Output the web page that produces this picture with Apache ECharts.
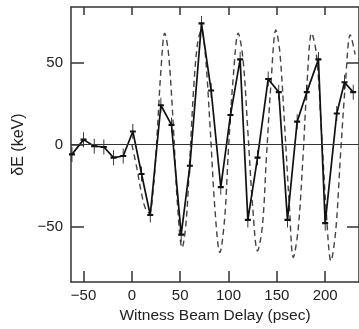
<!DOCTYPE html>
<html>
<head>
<meta charset="utf-8">
<script src="https://cdn.jsdelivr.net/npm/echarts@6/dist/echarts.min.js"></script>
<style>
html,body{margin:0;padding:0;background:#fff;}
#c{width:359px;height:329px;}
</style>
</head>
<body>
<div id="c"></div>
<script>
// Measured points (solid line with error bars)
const measX = [-62, -50, -39, -29, -19, -9, 1, 10, 19, 30, 41, 51, 60, 72, 82, 92, 102, 112, 120, 130, 141, 152, 161, 171, 181, 193, 200, 212, 220, 229];
const measY = [-6, 3, -1, -1.5, -8, -7, 8, -18, -43, 24, 12, -55, -13, 74, 33, -26, 18, 52, -46, -8, 40, 32, -46, 14, 32, 52, -48, 19, 38, 32];

// Theory curve (dashed)
const theoX = [0, 5, 10, 14, 18, 22, 26, 30, 34, 38, 43, 47, 52, 56, 60, 64, 68, 72, 76, 81, 86, 91, 96, 100, 105, 110, 115, 120, 125, 130, 135, 139, 144, 149, 153, 158, 163, 167, 172, 177, 181, 186, 191, 196, 201, 206, 211, 216, 221, 226, 231];
const theoY = [0, -14, -30, -39, -42, -28, 5, 45, 68, 55, 10, -35, -63, -48, -8, 35, 62, 70, 55, 10, -40, -66, -45, -2, 42, 68, 52, 8, -38, -65, -50, -10, 38, 70, 57, 12, -38, -69, -52, -8, 35, 68, 55, 10, -40, -71, -52, -5, 38, 67, 55];

const xTicks = [-50, 0, 50, 100, 150, 200];
const yTicks = [-50, 0, 50];
const yRightTicks = [-50, 50];

const font = 'Liberation Sans, Arial, sans-serif';
const ink = '#222';
const fmt = v => (v < 0 ? '\u2212' + Math.abs(v) : String(v));

const chart = echarts.init(document.getElementById('c'), null, {renderer: 'canvas'});
const axisLine = {show: true, onZero: false, lineStyle: {color: '#333', width: 1.5}};
chart.setOption({
  animation: false,
  backgroundColor: '#fff',
  grid: {left: 71, right: -5, top: 7, bottom: 42, containLabel: false},
  xAxis: [
    {
      type: 'value', position: 'bottom', min: -63, max: 235,
      axisLine: axisLine,
      axisTick: {show: true, inside: true, length: 11, customValues: xTicks, lineStyle: {color: '#333', width: 1.5}},
      axisLabel: {customValues: xTicks, formatter: fmt, margin: 6, fontSize: 15, color: ink, fontFamily: font},
      splitLine: {show: false},
      name: 'Witness Beam Delay (psec)', nameLocation: 'middle', nameGap: 24,
      nameTextStyle: {fontSize: 15.5, color: ink, fontFamily: font}
    },
    {
      type: 'value', position: 'top', min: -63, max: 235,
      axisLine: axisLine,
      axisTick: {show: true, inside: true, length: 8, customValues: xTicks, lineStyle: {color: '#333', width: 1.5}},
      axisLabel: {show: false},
      splitLine: {show: false}
    }
  ],
  yAxis: [
    {
      type: 'value', position: 'left', min: -84, max: 84,
      axisLine: axisLine,
      axisTick: {show: true, inside: true, length: 13, customValues: yTicks, lineStyle: {color: '#333', width: 1.5}},
      axisLabel: {customValues: yTicks, formatter: fmt, margin: 8, fontSize: 15, color: ink, fontFamily: font},
      splitLine: {show: false},
      name: '\u03b4E (keV)', nameLocation: 'middle', nameGap: 42,
      nameTextStyle: {fontSize: 16, color: ink, fontFamily: font}
    },
    {
      type: 'value', position: 'right', min: -84, max: 84,
      axisLine: axisLine,
      axisTick: {show: true, inside: true, length: 12, customValues: yRightTicks, lineStyle: {color: '#333', width: 1.5}},
      axisLabel: {show: false},
      splitLine: {show: false}
    }
  ],
  series: [
    {
      type: 'line', name: 'theory', xAxisIndex: 0, yAxisIndex: 0,
      data: theoX.map((x, i) => [x, theoY[i]]),
      smooth: 0.35, showSymbol: false, symbol: 'none',
      lineStyle: {color: '#444', width: 1.4, type: [6, 4]},
      z: 2
    },
    {
      type: 'line', name: 'measured', xAxisIndex: 0, yAxisIndex: 0,
      data: measX.map((x, i) => [x, measY[i]]),
      smooth: false,
      symbol: 'path://M3,0L3,16M0,8L6,8', symbolSize: [6, 15], showAllSymbol: true,
      itemStyle: {color: 'none', borderColor: '#111', borderWidth: 1.3},
      lineStyle: {color: '#111', width: 1.7},
      markLine: {
        silent: true, symbol: 'none', label: {show: false},
        lineStyle: {color: '#333', width: 1.2, type: 'solid'},
        data: [{yAxis: 0}]
      },
      z: 3
    }
  ]
});
</script>
</body>
</html>
